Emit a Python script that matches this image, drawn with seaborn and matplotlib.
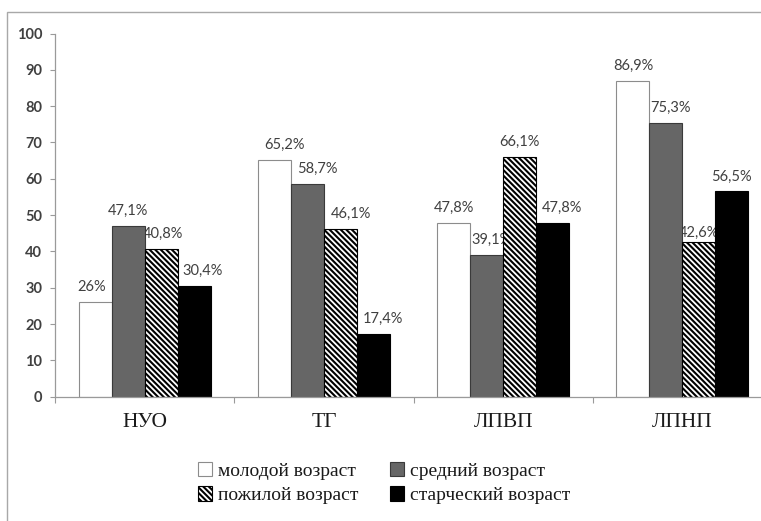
import matplotlib
matplotlib.use("Agg")
import matplotlib.pyplot as plt
from matplotlib.patches import Patch, Rectangle
import numpy as np
import pandas as pd
import seaborn as sns

# ---- data -------------------------------------------------------------
categories = ["НУО", "ТГ", "ЛПВП", "ЛПНП"]
groups = ["молодой возраст", "средний возраст", "пожилой возраст", "старческий возраст"]
young = [26.0, 65.2, 47.8, 86.9]
middle = [47.1, 58.7, 39.1, 75.3]
elderly = [40.8, 46.1, 66.1, 42.6]
senile = [30.4, 17.4, 47.8, 56.5]
y_ticks = [0, 10, 20, 30, 40, 50, 60, 70, 80, 90, 100]

series = [young, middle, elderly, senile]
df = pd.DataFrame(
    [(c, g, v) for g, vals in zip(groups, series) for c, v in zip(categories, vals)],
    columns=["показатель", "группа", "значение"],
)

# ---- styling ------------------------------------------------------------
sns.set_style("white")
plt.rcParams["font.family"] = ["Lato", "DejaVu Sans"]
plt.rcParams["hatch.linewidth"] = 1.5

faces = ["#ffffff", "#666666", "#ffffff", "#000000"]
edges = ["#8c8c8c", "#3a3a3a", "#000000", "#000000"]
hatches = [None, None, "\\" * 6, None]
axis_grey = "#9a9a9a"
text_grey = "#404040"

W, H = 761, 521
fig = plt.figure(figsize=(W / 100, H / 100), dpi=100)
ax = fig.add_axes([55 / W, 1 - 396.7 / H, (772 - 55) / W, (396.7 - 33.5) / H])

sns.barplot(
    data=df, x="показатель", y="значение", hue="группа",
    hue_order=groups, order=categories,
    palette=faces, saturation=1, width=0.736, gap=0,
    legend=False, ax=ax, errorbar=None,
)

for cont, fc, ec, ht in zip(ax.containers, faces, edges, hatches):
    for bar in cont:
        bar.set_facecolor(fc)
        bar.set_edgecolor(ec)
        bar.set_linewidth(0.8)
        bar.set_zorder(2)
        if ht:
            bar.set_hatch(ht)

# value labels (pixel nudges keep them clear of neighbouring bars)
nudge_x = [[-4, 10, 0, 0], [0, 10, 5, 5], [2, 11, 0, 0], [9, 10, 9, 0]]
nudge_y = [[0, 0, 0, 0], [0, 0, 0, 0], [0, 0, 0, -6], [0, 0, 0, 0]]


def fmt(v):
    return f"{v:.0f}%" if float(v).is_integer() else f"{v:.1f}%".replace(".", ",")


for gi, (cont, vals) in enumerate(zip(ax.containers, series)):
    for ci, (bar, v) in enumerate(zip(cont, vals)):
        ax.annotate(
            fmt(v),
            xy=(bar.get_x() + bar.get_width() / 2, v),
            xytext=(nudge_x[gi][ci], 15 + nudge_y[gi][ci]),
            textcoords="offset pixels",
            ha="center", va="center", fontsize=10.5, color=text_grey,
            zorder=1.5, annotation_clip=False,
            bbox=dict(boxstyle="square,pad=0.1", fc="white", ec="none"),
        )

# axes
ax.set_ylim(0, 100)
ax.set_xlim(-0.5, 3.5)
ax.set_yticks(y_ticks)
ax.set_xlabel("")
ax.set_ylabel("")
for side in ["top", "right"]:
    ax.spines[side].set_visible(False)
for side in ["left", "bottom"]:
    ax.spines[side].set_color(axis_grey)
    ax.spines[side].set_linewidth(0.9)

ax.tick_params(axis="y", direction="out", length=3.6, width=0.8, color=axis_grey,
               pad=5.5, labelsize=10.5, labelcolor=text_grey, left=True)
for lbl in ax.get_yticklabels():
    lbl.set_fontweight("bold")

ax.set_xticks(np.arange(-0.5, 4.0, 1.0), minor=True)
ax.tick_params(axis="x", which="minor", direction="out", length=4.5, width=0.8,
               color=axis_grey, bottom=True)
ax.tick_params(axis="x", which="major", length=0, pad=12, bottom=True)
ax.set_xticks(range(len(categories)))
ax.set_xticklabels(categories, family=["Liberation Serif", "DejaVu Serif"],
                   fontsize=15.5, color="#1a1a1a")

# legend
handles = [
    Patch(facecolor=faces[i], edgecolor=edges[i], hatch=hatches[i], linewidth=0.8)
    for i in range(4)
]
order = [0, 2, 1, 3]
fig.legend(
    [handles[i] for i in order], [groups[i] for i in order],
    loc="center", bbox_to_anchor=(384 / W, 1 - 483 / H), ncol=2, frameon=False,
    prop={"family": ["Liberation Serif", "DejaVu Serif"], "size": 14},
    handlelength=0.75, handleheight=0.75, handletextpad=0.3,
    columnspacing=1.6, labelspacing=0.35, labelcolor="#1a1a1a",
)

# outer chart-area frame
fig.add_artist(Rectangle((7 / W, -0.1), 2.0, 1.1 - 12 / H, transform=fig.transFigure,
                         fill=False, edgecolor="#a8a8a8", linewidth=1.0))

fig.savefig("out.png", dpi=100)
